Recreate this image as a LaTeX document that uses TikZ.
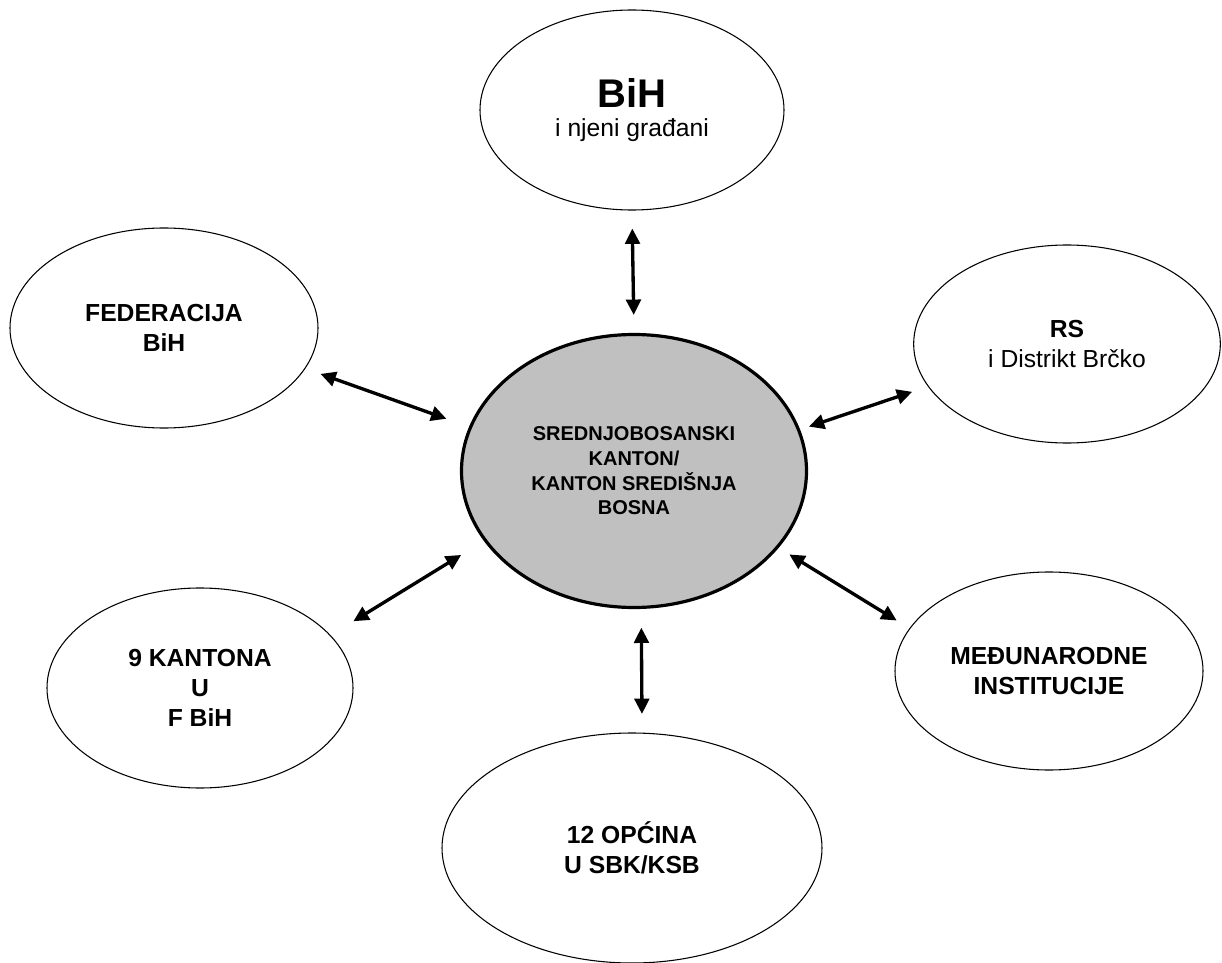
\documentclass[tikz,border=0pt]{standalone}
\usepackage{fontspec}
\setmainfont{Liberation Sans}
\usepackage{tikz}
\usetikzlibrary{shapes.geometric, arrows.meta}
\definecolor{centergray}{RGB}{192,192,192}

\begin{document}
\begin{tikzpicture}[x=0.75pt, y=-0.75pt,
    oval/.style={draw, ellipse, line width=0.8pt, inner sep=0pt, align=center,
        font=\bfseries\fontsize{18.5}{22.5}\selectfont},
    link/.style={line width=2.5pt,
        {Triangle[length=11.5pt,width=11pt]}-{Triangle[length=11.5pt,width=11pt]}}]
    % Define parameters
    \def\imgW{1222}   % picture width (px)
    \def\imgH{963}    % picture height (px)

    \useasboundingbox (0,0) rectangle (\imgW,\imgH);

    % Center canton
    \node[oval, fill=centergray, line width=2.4pt, minimum width=258.75pt, minimum height=204.75pt,
        font=\bfseries\fontsize{15}{18.5}\selectfont] (sbk) at (634,471)
        {SREDNJOBOSANSKI\\KANTON/\\KANTON SREDIŠNJA\\BOSNA};

    % Surrounding levels
    \node[oval, minimum width=228pt, minimum height=150pt] (bih) at (632,110)
        {{\fontsize{30}{32}\selectfont BiH}\\[-1pt]{\mdseries i njeni građani}};
    \node[oval, minimum width=231pt, minimum height=150pt] (fed) at (164,328)
        {FEDERACIJA\\BiH};
    \node[oval, minimum width=230pt, minimum height=148.5pt] (rs) at (1067,344)
        {RS\\{\mdseries i Distrikt Brčko}};
    \node[oval, minimum width=229.5pt, minimum height=150pt] (kant) at (200,688)
        {9 KANTONA\\U\\F BiH};
    \node[oval, minimum width=231pt, minimum height=148.5pt] (medj) at (1049,671)
        {MEĐUNARODNE\\INSTITUCIJE};
    \node[oval, minimum width=285pt, minimum height=172.5pt] (opc) at (632,848)
        {12 OPĆINA\\U SBK/KSB};

    % Two-way links
    \draw[link, shorten <=13.5pt, shorten >=13.5pt] (bih.south) -- (sbk.north);
    \draw[link, shorten <=12pt, shorten >=18pt] (fed.-16) -- (sbk.165);
    \draw[link, shorten <=7pt, shorten >=12.4pt] (sbk.14) -- (rs.-163);
    \draw[link, shorten <=20pt, shorten >=20pt] (kant.22) -- (sbk.205);
    \draw[link, shorten <=9.4pt, shorten >=11.2pt] (sbk.-28) -- (medj.163);
    \draw[link, shorten <=14pt, shorten >=14pt] (sbk.-87) -- (opc.85);
\end{tikzpicture}
\end{document}
